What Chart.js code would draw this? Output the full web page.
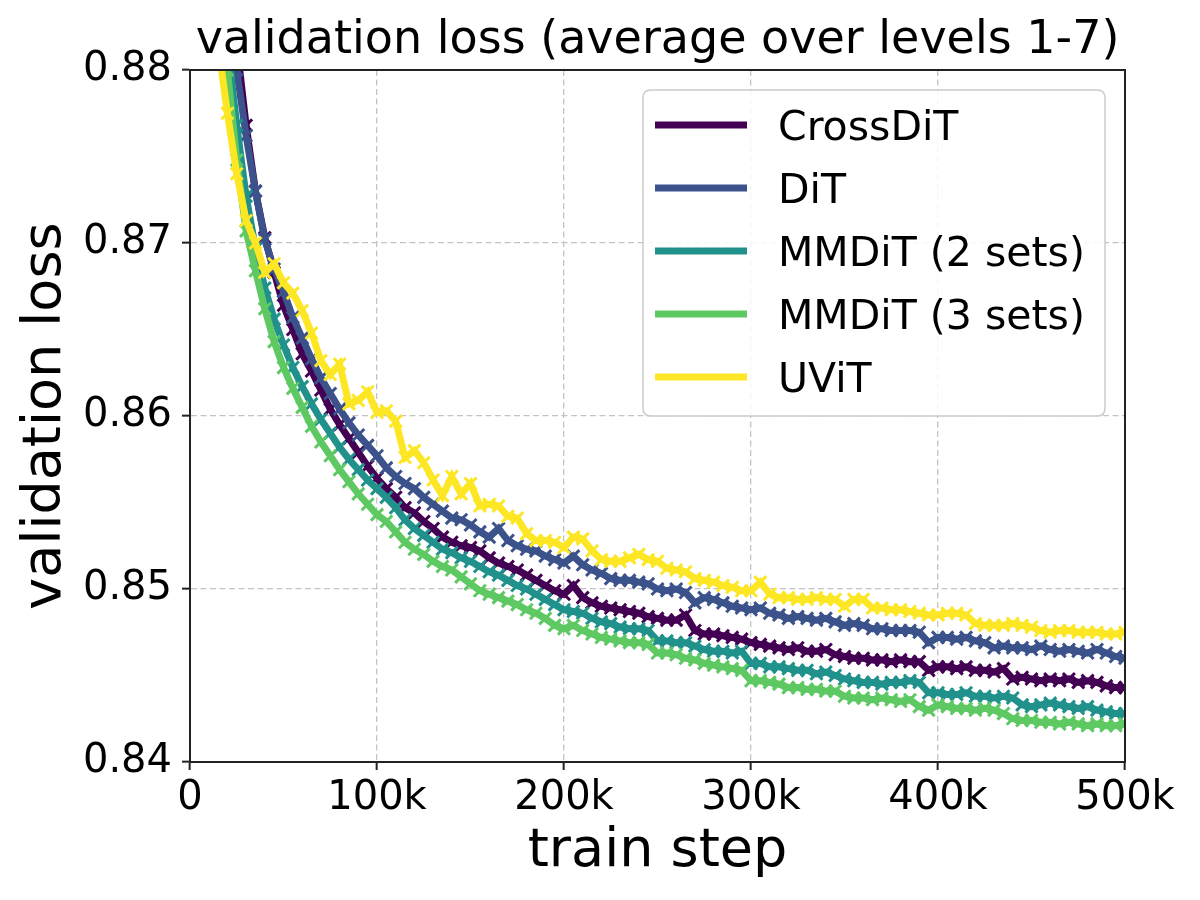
<!DOCTYPE html>
<html>
<head>
<meta charset="utf-8">
<script src="https://cdn.jsdelivr.net/npm/chart.js@4.4.1/dist/chart.umd.min.js"></script>
<style>
  html, body { margin: 0; padding: 0; background: #fff; }
  #wrap { width: 1200px; height: 900px; }
</style>
</head>
<body>
<div id="wrap"><canvas id="myChart" width="1200" height="900"></canvas></div>
<script>
// train step in thousands (one point every 5k)
var stepsK = [
  10, 15, 20, 25, 30, 35, 40, 45, 50, 55,
  60, 65, 70, 75, 80, 85, 90, 95, 100, 105,
  110, 115, 120, 125, 130, 135, 140, 145, 150, 155,
  160, 165, 170, 175, 180, 185, 190, 195, 200, 205,
  210, 215, 220, 225, 230, 235, 240, 245, 250, 255,
  260, 265, 270, 275, 280, 285, 290, 295, 300, 305,
  310, 315, 320, 325, 330, 335, 340, 345, 350, 355,
  360, 365, 370, 375, 380, 385, 390, 395, 400, 405,
  410, 415, 420, 425, 430, 435, 440, 445, 450, 455,
  460, 465, 470, 475, 480, 485, 490, 495, 500
];

var seriesNames = ['CrossDiT', 'DiT', 'MMDiT (2 sets)', 'MMDiT (3 sets)', 'UViT'];
var seriesColors = ['#440154', '#3b528b', '#21918c', '#5ec962', '#fde725'];

var crossDiT = [
  .8950, .8900, .8850, .8815, .8768, .8730, .8703, .8683, .8664, .8650,
  .8636, .8626, .8615, .8604, .8595, .8587, .8579, .8571, .8564, .8558,
  .8553, .8547, .8544, .8539, .8535, .8530, .8527, .8525, .8524, .8522,
  .8518, .8515, .8513, .8511, .8508, .8505, .8502, .8499, .8497, .8502,
  .8495, .8492, .8490, .8489, .8488, .8487, .8486, .8484, .8483, .8482,
  .8482, .8485, .8476, .8474, .8474, .8473, .8472, .8471, .8469, .8468,
  .8467, .8466, .8465, .8466, .8464, .8464, .8465, .8462, .8461, .8460,
  .8460, .8459, .8459, .8458, .8459, .8458, .8458, .8453, .8455, .8455,
  .8454, .8455, .8453, .8453, .8452, .8454, .8448, .8449, .8448, .8447,
  .8448, .8447, .8448, .8446, .8447, .8446, .8444, .8443, .8443
];

var diT = [
  .8960, .8905, .8850, .8800, .8762, .8730, .8702, .8685, .8672, .8657,
  .8645, .8633, .8622, .8613, .8604, .8596, .8589, .8583, .8577, .8570,
  .8565, .8561, .8558, .8553, .8549, .8545, .8541, .8540, .8537, .8533,
  .8530, .8535, .8528, .8525, .8523, .8522, .8519, .8517, .8515, .8519,
  .8514, .8511, .8509, .8506, .8505, .8505, .8504, .8503, .8500, .8499,
  .8500, .8498, .8492, .8495, .8494, .8492, .8490, .8489, .8488, .8489,
  .8486, .8485, .8483, .8484, .8483, .8482, .8483, .8481, .8479, .8480,
  .8479, .8477, .8477, .8476, .8476, .8476, .8475, .8469, .8472, .8472,
  .8471, .8472, .8470, .8469, .8466, .8467, .8466, .8466, .8465, .8467,
  .8465, .8464, .8465, .8464, .8463, .8465, .8463, .8461, .8460
];

var mmdit2 = [
  .8930, .8870, .8815, .8768, .8727, .8697, .8674, .8656, .8641, .8628,
  .8617, .8607, .8598, .8590, .8582, .8575, .8569, .8563, .8558, .8553,
  .8547, .8540, .8535, .8531, .8527, .8523, .8521, .8518, .8516, .8513,
  .8510, .8508, .8505, .8502, .8500, .8497, .8494, .8491, .8488, .8487,
  .8486, .8483, .8481, .8480, .8478, .8477, .8477, .8476, .8470, .8470,
  .8469, .8469, .8467, .8465, .8464, .8464, .8463, .8464, .8457, .8457,
  .8455, .8455, .8454, .8453, .8453, .8451, .8452, .8450, .8448, .8447,
  .8446, .8446, .8445, .8446, .8446, .8447, .8446, .8440, .8440, .8439,
  .8439, .8440, .8438, .8438, .8437, .8438, .8437, .8433, .8432, .8433,
  .8434, .8433, .8432, .8431, .8432, .8430, .8429, .8428, .8428
];

var mmdit3 = [
  .8920, .8860, .8800, .8748, .8707, .8684, .8662, .8643, .8628, .8616,
  .8605, .8594, .8585, .8577, .8569, .8562, .8555, .8549, .8543, .8539,
  .8533, .8527, .8523, .8520, .8516, .8513, .8511, .8507, .8503, .8499,
  .8497, .8495, .8493, .8491, .8488, .8486, .8483, .8479, .8477, .8479,
  .8476, .8474, .8472, .8471, .8470, .8469, .8469, .8468, .8463, .8463,
  .8462, .8460, .8459, .8457, .8456, .8455, .8454, .8453, .8447, .8447,
  .8446, .8445, .8443, .8443, .8442, .8442, .8441, .8441, .8438, .8437,
  .8437, .8436, .8437, .8436, .8435, .8436, .8432, .8430, .8433, .8432,
  .8431, .8431, .8430, .8431, .8430, .8428, .8425, .8424, .8424, .8423,
  .8423, .8422, .8423, .8422, .8421, .8422, .8421, .8421, .8422
];

var uvit = [
  .8870, .8815, .8775, .8740, .8713, .8700, .8683, .8688, .8677, .8671,
  .8661, .8648, .8632, .8624, .8630, .8607, .8609, .8614, .8602, .8603,
  .8597, .8576, .8580, .8573, .8563, .8554, .8565, .8555, .8561, .8548,
  .8549, .8548, .8542, .8541, .8532, .8528, .8528, .8527, .8524, .8530,
  .8529, .8522, .8517, .8516, .8516, .8518, .8520, .8517, .8516, .8512,
  .8511, .8510, .8506, .8505, .8504, .8502, .8501, .8499, .8499, .8504,
  .8497, .8495, .8495, .8494, .8494, .8495, .8494, .8494, .8490, .8494,
  .8494, .8489, .8489, .8488, .8488, .8487, .8486, .8485, .8485, .8486,
  .8486, .8485, .8480, .8479, .8479, .8479, .8480, .8479, .8478, .8476,
  .8475, .8476, .8476, .8475, .8475, .8475, .8474, .8474, .8475
];

var seriesValues = [crossDiT, diT, mmdit2, mmdit3, uvit];

var xTicks = [0, 100000, 200000, 300000, 400000, 500000];
var yTicks = [0.84, 0.85, 0.86, 0.87, 0.88];

var FONT = '"DejaVu Sans", "Liberation Sans", sans-serif';

function points(vals) {
  var out = [];
  for (var i = 0; i < stepsK.length; i++) {
    out.push({ x: stepsK[i] * 1000, y: vals[i] });
  }
  return out;
}

var datasets = [];
for (var s = 0; s < seriesNames.length; s++) {
  datasets.push({
    label: seriesNames[s],
    data: points(seriesValues[s]),
    borderColor: seriesColors[s],
    backgroundColor: seriesColors[s],
    borderWidth: 7,
    pointStyle: 'crossRot',
    pointRadius: 8.5,
    pointBorderWidth: 3,
    pointBorderColor: seriesColors[s],
    pointHoverRadius: 8.5,
    tension: 0,
    fill: false,
    clip: 0,
    order: seriesNames.length - 1 - s   // later series drawn on top, like matplotlib
  });
}

// top/right spines + legend box inside the axes
var framePlugin = {
  id: 'frame',
  afterDraw: function(chart) {
    var c = chart.ctx, a = chart.chartArea;
    c.save();
    c.strokeStyle = '#222';
    c.lineWidth = 2;
    c.strokeRect(a.left, a.top, a.right - a.left, a.bottom - a.top);

    // legend
    var bx = 643, by = 90, bw = 462, bh = 326, r = 8;
    c.beginPath();
    c.moveTo(bx + r, by);
    c.lineTo(bx + bw - r, by);
    c.quadraticCurveTo(bx + bw, by, bx + bw, by + r);
    c.lineTo(bx + bw, by + bh - r);
    c.quadraticCurveTo(bx + bw, by + bh, bx + bw - r, by + bh);
    c.lineTo(bx + r, by + bh);
    c.quadraticCurveTo(bx, by + bh, bx, by + bh - r);
    c.lineTo(bx, by + r);
    c.quadraticCurveTo(bx, by, bx + r, by);
    c.closePath();
    c.fillStyle = 'rgba(255,255,255,0.85)';
    c.fill();
    c.strokeStyle = '#cccccc';
    c.lineWidth = 1.5;
    c.stroke();

    c.font = '41px ' + FONT;
    c.textAlign = 'left';
    c.textBaseline = 'alphabetic';
    chart.data.datasets.forEach(function(ds, i) {
      var y = 125 + i * 63;
      c.strokeStyle = ds.borderColor;
      c.lineWidth = 7;
      c.beginPath();
      c.moveTo(655, y);
      c.lineTo(747, y);
      c.stroke();
      c.fillStyle = '#000';
      c.fillText(ds.label, 778, y + 15);
    });
    c.restore();
  }
};

var ctx = document.getElementById('myChart').getContext('2d');
var myChart = new Chart(ctx, {
  type: 'line',
  data: { datasets: datasets },
  plugins: [framePlugin],
  options: {
    responsive: false,
    animation: false,
    devicePixelRatio: 1,
    layout: { padding: { left: 0, right: 75, top: 0, bottom: 0 } },
    plugins: {
      legend: { display: false },
      tooltip: { enabled: false },
      title: {
        display: true,
        text: 'validation loss (average over levels 1-7)',
        color: '#000',
        fullSize: false,
        font: { family: FONT, size: 46, weight: 'normal', lineHeight: 1.2 },
        padding: { top: 13, bottom: 1.8 }
      }
    },
    scales: {
      x: {
        type: 'linear',
        min: 0,
        max: 500000,
        afterBuildTicks: function(scale) {
          scale.ticks = xTicks.map(function(v) { return { value: v }; });
        },
        afterFit: function(scale) {
          scale.height = 138;
          scale.paddingLeft = 0;
          scale.paddingRight = 0;
        },
        ticks: {
          color: '#000',
          font: { family: FONT, size: 40 },
          padding: 5,
          maxRotation: 0,
          autoSkip: false,
          callback: function(v) { return v === 0 ? '0' : (v / 1000) + 'k'; }
        },
        grid: {
          color: '#c4c4c4',
          lineWidth: 1.3,
          tickColor: '#222',
          tickLength: 8,
          tickWidth: 2,
          tickBorderDash: [0, 0]
        },
        border: { display: true, color: '#222', width: 2, dash: [6, 3.5] },
        title: {
          display: true,
          text: 'train step',
          color: '#000',
          font: { family: FONT, size: 54 },
          padding: { top: 0, bottom: 16 }
        }
      },
      y: {
        type: 'linear',
        min: 0.84,
        max: 0.88,
        afterBuildTicks: function(scale) {
          scale.ticks = yTicks.map(function(v) { return { value: v }; });
        },
        afterFit: function(scale) {
          scale.width = 190;
          scale.paddingTop = 0;
          scale.paddingBottom = 0;
        },
        ticks: {
          color: '#000',
          font: { family: FONT, size: 40 },
          padding: 10,
          autoSkip: false,
          callback: function(v) { return v.toFixed(2); }
        },
        grid: {
          color: '#c4c4c4',
          lineWidth: 1.3,
          tickColor: '#222',
          tickLength: 8,
          tickWidth: 2,
          tickBorderDash: [0, 0]
        },
        border: { display: true, color: '#222', width: 2, dash: [6, 3.5] },
        title: {
          display: true,
          text: 'validation loss',
          color: '#000',
          font: { family: FONT, size: 54 },
          padding: { top: 14, bottom: 0 }
        }
      }
    }
  }
});
</script>
</body>
</html>
